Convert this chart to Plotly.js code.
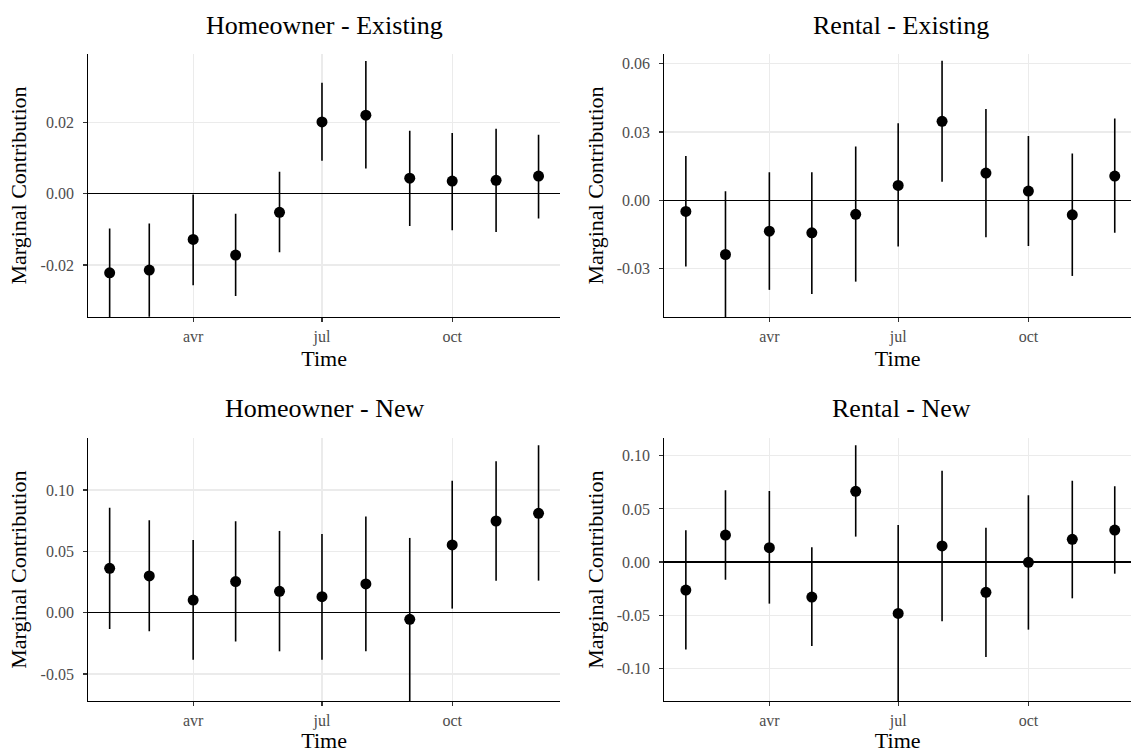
<!DOCTYPE html>
<html>
<head>
<meta charset="utf-8">
<script src="https://cdn.plot.ly/plotly-3.0.1.min.js"></script>
<style>html,body{margin:0;padding:0;background:#fff;}#chart{width:1131px;height:753px;}</style>
</head>
<body>
<div id="chart"></div>
<script>
// ---- data ----
const dates = ['2019-02-01','2019-03-01','2019-04-01','2019-05-01','2019-06-01','2019-07-01',
               '2019-08-01','2019-09-01','2019-10-01','2019-11-01','2019-12-01'];
const xTickVals = ['2019-04-01','2019-07-01','2019-10-01'];
const xTickText = ['avr','jul','oct'];

const panelTitles = ['Homeowner - Existing','Rental - Existing','Homeowner - New','Rental - New'];

// Homeowner - Existing
const hoExEst = [-0.0222,-0.0214,-0.0128,-0.0172,-0.0052,0.0202,0.0221,0.0044,0.0036,0.0038,0.0050];
const hoExHi  = [-0.0097,-0.0083,-0.0002,-0.0056,0.0062,0.0312,0.0373,0.0177,0.0171,0.0183,0.0166];
const hoExLo  = [-0.0347,-0.0345,-0.0257,-0.0287,-0.0164,0.0093,0.0071,-0.0090,-0.0102,-0.0107,-0.0069];

// Rental - Existing
const reExEst = [-0.0048,-0.0237,-0.0135,-0.0142,-0.0061,0.0066,0.0347,0.0120,0.0041,-0.0063,0.0107];
const reExHi  = [0.0195,0.0040,0.0124,0.0124,0.0236,0.0338,0.0612,0.0401,0.0282,0.0206,0.0359];
const reExLo  = [-0.0290,-0.0514,-0.0392,-0.0410,-0.0356,-0.0202,0.0082,-0.0161,-0.0200,-0.0331,-0.0142];

// Homeowner - New
const hoNwEst = [0.0361,0.0299,0.0103,0.0253,0.0174,0.0130,0.0234,-0.0054,0.0552,0.0747,0.0810];
const hoNwHi  = [0.0856,0.0753,0.0592,0.0745,0.0666,0.0641,0.0783,0.0609,0.1076,0.1234,0.1364];
const hoNwLo  = [-0.0133,-0.0152,-0.0383,-0.0236,-0.0315,-0.0383,-0.0315,-0.0730,0.0033,0.0261,0.0261];

// Rental - New
const reNwEst = [-0.0264,0.0254,0.0135,-0.0330,0.0666,-0.0484,0.0151,-0.0286,-0.0003,0.0214,0.0301];
const reNwHi  = [0.0298,0.0675,0.0669,0.0138,0.1099,0.0349,0.0860,0.0323,0.0628,0.0766,0.0713];
const reNwLo  = [-0.0823,-0.0166,-0.0392,-0.0791,0.0239,-0.1317,-0.0559,-0.0895,-0.0637,-0.0342,-0.0110];

// y tick values per panel
const yTicks1 = [-0.02, 0.00, 0.02];
const yTicks2 = [-0.03, 0.00, 0.03, 0.06];
const yTicks3 = [-0.05, 0.00, 0.05, 0.10];
const yTicks4 = [-0.10, -0.05, 0.00, 0.05, 0.10];

// visible y limits per panel
const yLim1 = [-0.0346, 0.0393];
const yLim2 = [-0.0511, 0.0642];
const yLim3 = [-0.0720, 0.1421];
const yLim4 = [-0.1309, 0.1165];

// ---- build ----
const FONT = 'Liberation Serif, Times New Roman, serif';
const W = 1131, H = 753;
const series = [
  {est: hoExEst, hi: hoExHi, lo: hoExLo, ticks: yTicks1, lim: yLim1},
  {est: reExEst, hi: reExHi, lo: reExLo, ticks: yTicks2, lim: yLim2},
  {est: hoNwEst, hi: hoNwHi, lo: hoNwLo, ticks: yTicks3, lim: yLim3},
  {est: reNwEst, hi: reNwHi, lo: reNwLo, ticks: yTicks4, lim: yLim4},
];

const t0 = Date.parse(dates[0] + 'T00:00:00Z');
const t1 = Date.parse(dates[dates.length-1] + 'T00:00:00Z');
const pad = 0.05 * (t1 - t0);
function iso(ms){ return new Date(ms).toISOString().replace('T',' ').slice(0,19); }

const xDomL = [88.2/W, 560/W];
const xDomR = [664.4/W, 1];
const yDomT = [1-317/H, 1-54/H];
const yDomB = [1-701/H, 1-438.3/H];
const pxPerMs = (560-88.2) / ((t1 - t0) + 2*pad);
const rightEnd = t0 - pad + (1131-664.4)/pxPerMs;

const traces = [];
const layout = {
  width: W, height: H,
  margin: {l:0, r:0, t:0, b:0},
  paper_bgcolor: '#ffffff', plot_bgcolor: '#ffffff',
  showlegend: false,
  font: {family: FONT, color: '#000000'},
  annotations: []
};

series.forEach((s, i) => {
  const k = i + 1;
  const sfx = (k === 1 ? '' : String(k));
  const left = (i % 2 === 0);
  const top = (i < 2);
  traces.push({
    type: 'scatter', mode: 'markers',
    x: dates, y: s.est,
    xaxis: 'x' + sfx, yaxis: 'y' + sfx,
    marker: {color: '#000000', size: 11},
    error_y: {
      type: 'data', symmetric: false,
      array: s.hi.map((v, j) => v - s.est[j]),
      arrayminus: s.est.map((v, j) => v - s.lo[j]),
      color: '#000000', thickness: 1.6, width: 0
    },
    cliponaxis: true,
    hoverinfo: 'x+y'
  });
  layout['xaxis' + sfx] = {
    type: 'date',
    domain: left ? xDomL : xDomR,
    anchor: 'y' + sfx,
    range: [iso(t0 - pad), iso(left ? t1 + pad : rightEnd)],
    tickmode: 'array', tickvals: xTickVals, ticktext: xTickText,
    showgrid: true, gridcolor: '#ebebeb', gridwidth: 1.1,
    showline: true, linecolor: '#000000', linewidth: 1.1, mirror: false,
    ticks: 'outside', ticklen: 4, tickwidth: 1.1, tickcolor: '#333333',
    tickfont: {family: FONT, size: 16, color: '#4d4d4d'},
    ticklabelstandoff: 1,
    zeroline: false,
    title: {text: 'Time', font: {family: FONT, size: 22, color: '#000000'}, standoff: 3},
    fixedrange: true
  };
  layout['yaxis' + sfx] = {
    domain: top ? yDomT : yDomB,
    anchor: 'x' + sfx,
    range: s.lim,
    tickmode: 'array', tickvals: s.ticks, ticktext: s.ticks.map(v => v.toFixed(2)),
    showgrid: true, gridcolor: '#ebebeb', gridwidth: 1.1,
    showline: true, linecolor: '#000000', linewidth: 1.1, mirror: false,
    ticks: 'outside', ticklen: 4, tickwidth: 1.1, tickcolor: '#333333',
    tickfont: {family: FONT, size: 16, color: '#4d4d4d'},
    ticklabelstandoff: 6,
    zeroline: true, zerolinecolor: '#000000', zerolinewidth: 1.1,
    title: {text: 'Marginal Contribution', font: {family: FONT, size: 22, color: '#000000'}, standoff: 7},
    fixedrange: true
  };
  const dom = left ? xDomL : xDomR;
  layout.annotations.push({
    text: panelTitles[i],
    xref: 'paper', yref: 'paper',
    x: left ? (dom[0] + dom[1]) / 2 : 901 / W,
    y: top ? 1 - 26/H : 1 - 409/H,
    xanchor: 'center', yanchor: 'middle',
    showarrow: false,
    font: {family: FONT, size: 26, color: '#000000'}
  });
});

Plotly.newPlot('chart', traces, layout, {displayModeBar: false, staticPlot: true});
</script>
</body>
</html>
